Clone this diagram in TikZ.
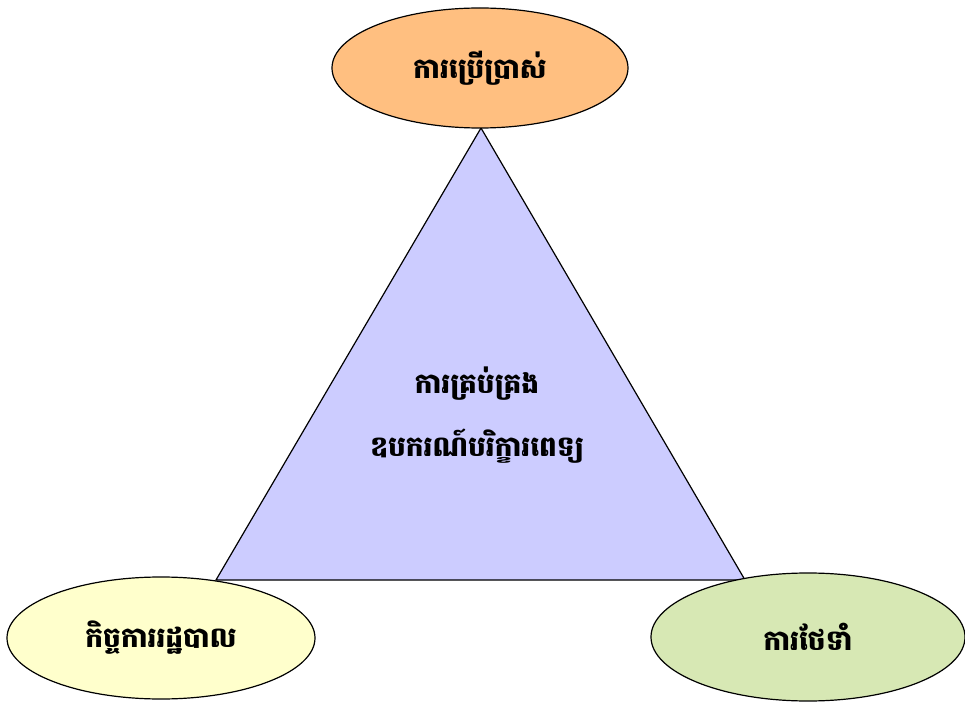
\documentclass[tikz,border=0pt]{standalone}
\usepackage{fontspec}
\usetikzlibrary{positioning,shapes.geometric}
\newfontfamily\khmerfont[Script=Khmer]{Battambang}
\definecolor{useorange}{RGB}{255,191,128}
\definecolor{adminyellow}{RGB}{255,255,204}
\definecolor{maintgreen}{RGB}{215,232,180}
\definecolor{managelilac}{RGB}{204,204,255}

\begin{document}
\begin{tikzpicture}[x=0.75pt,y=-0.75pt]
		\tikzstyle{every node}+=[font=\khmerfont\bfseries\fontsize{21}{25}\selectfont]
		\tikzstyle{task}=[ellipse,draw=black,line width=0.9pt,inner sep=0pt]
		\useasboundingbox (0,0) rectangle (965,702);
		% triangle in the middle
		\coordinate (apex) at (481,128);
		\coordinate (bleft) at (216,580);
		\coordinate (bright) at (745,580);
		\draw [black,line width=0.9pt,fill=managelilac] (apex) -- (bright) -- (bleft) -- cycle;
		\node [align=center] (manage) at (477,415) {ការគ្រប់គ្រង\\[20pt]ឧបករណ៍បរិក្ខារពេទ្យ};
		% the three ellipses
		\node [task,fill=useorange,minimum width=222pt,minimum height=90pt] (use) at (480,68) {ការប្រើប្រាស់};
		\node [task,fill=adminyellow,minimum width=231pt,minimum height=91.5pt] (admin) at (161,638) {កិច្ចការរដ្ឋបាល};
		\node [task,fill=maintgreen,minimum width=235.5pt,minimum height=96pt] (maint) at (808,637) {ការថែទាំ};
		\end{tikzpicture}
\end{document}
